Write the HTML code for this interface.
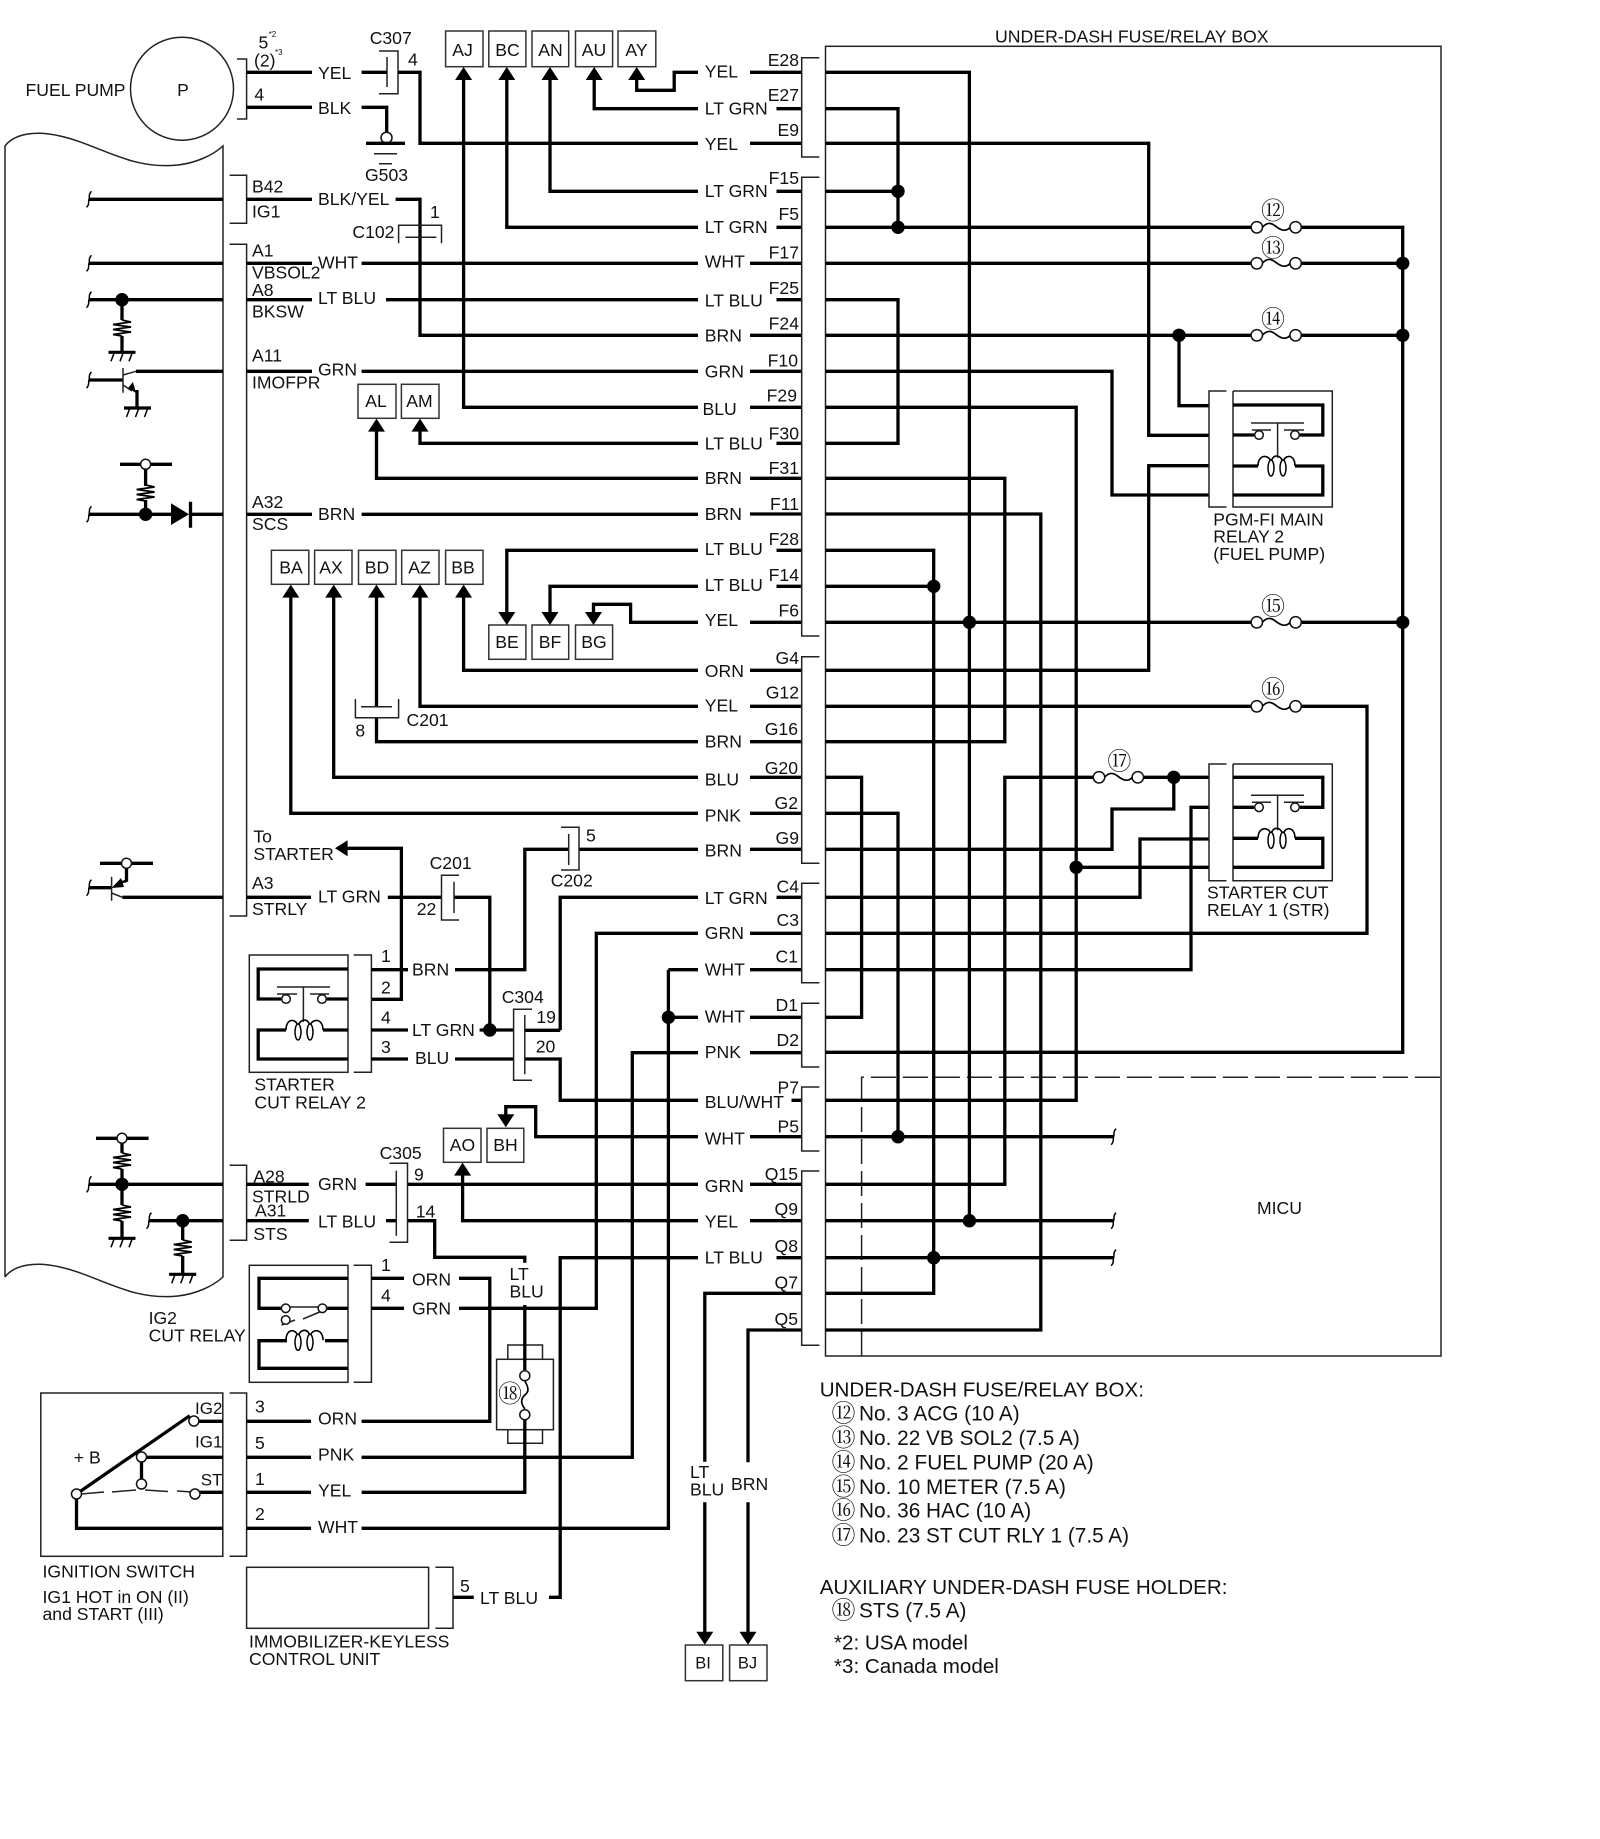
<!DOCTYPE html>
<html>
<head>
<meta charset="utf-8">
<title>Wiring diagram</title>
<style>
html,body{margin:0;padding:0;background:#fff;width:1600px;height:1839px;overflow:hidden}
svg{display:block}
text{font-family:"Liberation Sans","Noto Sans CJK JP",sans-serif;font-size:17.6px;fill:#111}
.w{fill:none;stroke:#000;stroke-width:3.3;stroke-linejoin:miter}
.t{fill:none;stroke:#222;stroke-width:1.5}
.b{fill:#fff;stroke:#333;stroke-width:1.5}
.s{font-size:8px}
.c{text-anchor:middle}
.e{text-anchor:end}
.l{font-size:20.8px}
.h{font-size:20.6px}
.n{font-family:"Noto Serif CJK SC","Noto Sans CJK JP",serif;font-size:24px;text-anchor:middle}
.n2{font-family:"Noto Serif CJK SC","Noto Sans CJK JP",serif;font-size:24px}
</style>
</head>
<body>
<svg width="1600" height="1839" viewBox="0 0 1600 1839" xmlns="http://www.w3.org/2000/svg">
<defs>
<polygon id="au" points="0,0 -8.5,13 8.5,13" fill="#000"/>
<polygon id="ad" points="0,0 -8.5,-13 8.5,-13" fill="#000"/>
<circle id="d" r="6.7" fill="#000"/>
<circle id="o" r="4.3" fill="#fff" stroke="#111" stroke-width="1.5"/>
<circle id="o2" r="5" fill="#fff" stroke="#111" stroke-width="1.5"/>
<path id="curl" d="M2.5,-8 C-1,-5 1,-2 0,0 C-1,2 1,5 -2.5,8" fill="none" stroke="#000" stroke-width="1.5"/>
<path id="res" d="M0,0 L9,2 L-9,4.5 L9,7 L-9,9.5 L9,12 L-9,14.5 L0,16" fill="none" stroke="#000" stroke-width="1.7"/>
<g id="gnd"><path d="M-13.5,0 H13.5" stroke="#000" stroke-width="3.2"/><path d="M-8,1 L-11,9 M1,1 L-2,9 M10,1 L7,9" stroke="#000" stroke-width="1.5" fill="none"/></g>
<g id="fuse"><circle cx="0" cy="0" r="5.7" fill="#fff" stroke="#111" stroke-width="1.5"/><circle cx="38.8" cy="0" r="5.7" fill="#fff" stroke="#111" stroke-width="1.5"/><path d="M5.5,0 C10,-5 14,-5 19,-1 S29,5 33.3,0" fill="none" stroke="#000" stroke-width="1.7"/></g>
<g id="coil"><path d="M25,75 C25,63 36,63 38,71 C40,63 47,63 50,71 C52,63 62,63 62,75" fill="none" stroke="#000" stroke-width="1.6"/><ellipse cx="38" cy="77" rx="3" ry="8" fill="#fff" stroke="#000" stroke-width="1.5"/><ellipse cx="50" cy="77" rx="3" ry="8" fill="#fff" stroke="#000" stroke-width="1.5"/></g>
<g id="relay">
<path class="w" d="M0,14 H89.8 V44 H67 M0,44 H21 M0,75 H25 M62,75 H89.8 V104 H0"/>
<path class="t" d="M18,32 H71 M19,39 H38 M51,39 H71 M44.6,32 V67"/>
<use href="#o" x="26" y="44"/><use href="#o" x="62" y="44"/>
<use href="#coil"/>
</g>
</defs>

<!-- ECM body -->
<path class="t" d="M5,1277 V146 C14,134 35,130 60,136 C100,145 130,170 178,165 C195,163 212,156 223,146 V1277 C212,1287 195,1294 178,1296 C130,1301 100,1276 60,1267 C35,1261 14,1265 5,1277"/>

<!-- Fuel pump -->
<circle class="t" cx="182" cy="88.7" r="51.5"/>
<text x="25.5" y="96">FUEL PUMP</text>
<text x="183" y="96" class="c">P</text>
<path class="t" d="M237,59 H246.6 V119 H237"/>
<text x="258.5" y="48.3">5</text><text x="268.7" y="37" class="s">*2</text>
<text x="254" y="66.7">(2)</text><text x="275" y="55" class="s">*3</text>
<text x="254.4" y="100.7">4</text>
<text x="318" y="79">YEL</text>
<text x="318" y="114">BLK</text>
<text x="369.7" y="44">C307</text>
<text x="408" y="65.7">4</text>
<path class="t" d="M379,51 H398 V93.7 H379 M387,57 V87"/>
<text x="365" y="181">G503</text>
<path class="w" d="M246.6,72.3 H312 M361.6,72.3 H387 M398,72.3 H420 V143.3 H698"/>
<path class="w" d="M246.6,107.3 H312 M361.6,107.3 H386.7 V133"/>
<circle cx="386.5" cy="137.7" r="5.5" fill="#fff" stroke="#111" stroke-width="1.5"/>
<path class="w" d="M366,143.3 H405"/>
<path class="t" d="M374,153.7 H397 M379,163.7 H392"/>

<!-- Connectors left of ECM labels -->
<path class="t" d="M229.6,175.3 H246.6 V223.3 H229.6"/>
<path class="t" d="M229.6,244.3 H246.6 V916 H229.6"/>
<path class="t" d="M229.6,1165.3 H246.6 V1240.3 H229.6"/>
<text x="252" y="192.7">B42</text><text x="252" y="217.7">IG1</text>
<text x="252" y="256.7">A1</text><text x="252" y="278.3">VBSOL2</text>
<text x="252" y="296">A8</text><text x="252" y="317.7">BKSW</text>
<text x="252" y="361.7">A11</text><text x="252" y="388.3">IMOFPR</text>
<text x="252" y="508">A32</text><text x="252" y="530">SCS</text>
<text x="253.4" y="842.7">To</text><text x="253.4" y="860">STARTER</text>
<text x="252" y="889">A3</text><text x="252" y="915">STRLY</text>
<text x="253.4" y="1182.3">A28</text><text x="252" y="1202.7">STRLD</text>
<text x="255" y="1216.7">A31</text><text x="253.4" y="1240">STS</text>

<text x="318" y="205">BLK/YEL</text>
<text x="318" y="268.3">WHT</text>
<text x="318" y="304">LT BLU</text>
<text x="318" y="375.7">GRN</text>
<text x="318" y="520">BRN</text>
<text x="318" y="902.3">LT GRN</text>
<text x="318" y="1190">GRN</text>
<text x="318" y="1227.7">LT BLU</text>

<!-- ECM-side wires -->
<path class="w" d="M89,199.3 H223 M246.6,199.3 H312 M395.6,199.3 H420 V335.3 H698"/>
<path class="w" d="M89,263.3 H223 M246.6,263.3 H312 M361.6,263.3 H698"/>
<path class="w" d="M89,299.7 H223 M246.6,299.7 H312 M386,299.7 H698"/>
<path class="w" d="M136,371.3 H223 M246.6,371.3 H312 M361.6,371.3 H698"/>
<path class="w" d="M89,514.3 H171 M190,514.3 H223 M246.6,514.3 H312 M361.6,514.3 H698"/>
<path class="w" d="M122.4,897.3 H223 M246.6,897.3 H311 M387.8,897.3 H441.5 M454,897.3 H489.8 V1030"/>
<use href="#curl" x="89" y="199.3"/><use href="#curl" x="89" y="263.3"/><use href="#curl" x="89" y="299.7"/><use href="#curl" x="89" y="380"/><use href="#curl" x="89" y="514.3"/><use href="#curl" x="89" y="887.7"/><use href="#curl" x="89" y="1184.3"/><use href="#curl" x="149" y="1220.7"/>

<!-- C102 -->
<path class="t" d="M398.6,243.3 V225.3 H441.5 V243.3 M405.4,237.3 H436.4"/>
<text x="352.4" y="238">C102</text><text x="430" y="218">1</text>

<!-- A8 pull-down -->
<use href="#d" x="122" y="299.7"/>
<path class="w" d="M122,300 V320 M122,336 V352"/>
<use href="#res" x="122" y="320"/>
<use href="#gnd" x="122" y="352.3"/>

<!-- A11 transistor -->
<path class="w" d="M89,380 H123"/>
<path class="t" d="M123,368 V392.7 M123,375 L136,371.3 M123,385 L132,391"/>
<polygon points="136,393 128,388 133,382" fill="#000"/>
<path class="w" d="M137,390 V407"/>
<use href="#gnd" x="137.5" y="408"/>

<!-- A32 -->
<use href="#d" x="145.6" y="514.3"/>
<polygon points="171,503.3 171,525 189,514.3" fill="#000"/>
<path class="w" d="M190.5,501.7 V527.7 M120,464.3 H172 M145.6,464.3 V486 M145.6,500 V514"/>
<use href="#o2" x="145.6" y="464.3"/>
<use href="#res" x="145.6" y="485"/>

<!-- A3 transistor -->
<path class="w" d="M89,887.7 H111.6 M126.5,881.7 V868 M100,863.3 H153"/>
<use href="#o2" x="126.5" y="863.3"/>
<path class="t" d="M111.6,876.7 V900.7 M111.6,893 L122.4,897.3"/>
<path class="w" d="M126.5,881 L118,883" style="stroke-width:2.5"/>
<polygon points="111.6,888 121,878 124,887" fill="#000"/>

<!-- C201 lower / To starter -->
<polygon points="335,848.3 347.6,840.3 347.6,856.3" fill="#000"/>
<path class="w" d="M347,848.3 H401.4 V999.3 H371.4"/>
<path class="t" d="M459,875.3 H441.5 V920 H459 M454,881.7 V913"/>
<text x="429.6" y="869">C201</text><text x="416.7" y="915">22</text>

<!-- Boxes top -->
<g class="b">
<rect x="445.6" y="31" width="37.4" height="35.7"/><rect x="488.8" y="31" width="37.1" height="35.7"/><rect x="532" y="31" width="36.7" height="35.7"/><rect x="575.5" y="31" width="37.1" height="35.7"/><rect x="618" y="31" width="37.8" height="35.7"/>
<rect x="358" y="384.3" width="38" height="34"/><rect x="401.4" y="384.3" width="37.6" height="34"/>
<rect x="271.4" y="550.3" width="37.4" height="34"/><rect x="314.6" y="550.3" width="37.4" height="34"/><rect x="358.5" y="550.3" width="37.5" height="34"/><rect x="401.7" y="550.3" width="37.3" height="34"/><rect x="445.6" y="550.3" width="37.4" height="34"/>
<rect x="488.8" y="625" width="37.1" height="34.3"/><rect x="532" y="625" width="36.7" height="34.3"/><rect x="575.5" y="625" width="37.1" height="34.3"/>
<rect x="443.5" y="1128.3" width="37.5" height="34"/><rect x="487" y="1128.3" width="36.8" height="34"/>
<rect x="685.4" y="1645" width="37.4" height="35.7"/><rect x="729.6" y="1645" width="37.4" height="35.7"/>
</g>
<text x="462.5" y="56" class="c">AJ</text><text x="507.5" y="56" class="c">BC</text><text x="550.5" y="56" class="c">AN</text><text x="594" y="56" class="c">AU</text><text x="636.5" y="56" class="c">AY</text>
<text x="376" y="407" class="c">AL</text><text x="419.5" y="407" class="c">AM</text>
<text x="291" y="573.5" class="c">BA</text><text x="331" y="573.5" class="c">AX</text><text x="377" y="573.5" class="c">BD</text><text x="419.5" y="573.5" class="c">AZ</text><text x="463" y="573.5" class="c">BB</text>
<text x="507" y="648" class="c">BE</text><text x="550" y="648" class="c">BF</text><text x="594" y="648" class="c">BG</text>
<text x="462.5" y="1151" class="c">AO</text><text x="505.5" y="1151" class="c">BH</text>
<text x="703" y="1668.5" class="c" style="font-size:16.5px">BI</text><text x="747.5" y="1668.5" class="c" style="font-size:16.5px">BJ</text>

<!-- Wires from top boxes -->
<path class="w" d="M463.6,75 V407.3 H698"/>
<path class="w" d="M506.8,75 V227.3 H698"/>
<path class="w" d="M550,75 V191.3 H698"/>
<path class="w" d="M594.2,75 V108.7 H698"/>
<path class="w" d="M636.7,75 V90.3 H674.2 V72.3 H698"/>
<use href="#au" x="463.6" y="67"/><use href="#au" x="506.8" y="67"/><use href="#au" x="550" y="67"/><use href="#au" x="594.2" y="67"/><use href="#au" x="636.7" y="67"/>
<path class="w" d="M376.5,428 V478.3 H698"/>
<path class="w" d="M420,428 V443.3 H698"/>
<use href="#au" x="376.5" y="418.6"/><use href="#au" x="420" y="418.6"/>
<path class="w" d="M290.8,595 V813.3 H698"/>
<path class="w" d="M333.7,595 V777.3 H698"/>
<path class="w" d="M376.5,595 V706.7 M376.5,717.7 V741.7 H698"/>
<path class="w" d="M420,595 V706.3 H698"/>
<path class="w" d="M463.6,595 V670.3 H698"/>
<use href="#au" x="290.8" y="584.6"/><use href="#au" x="333.7" y="584.6"/><use href="#au" x="376.5" y="584.6"/><use href="#au" x="420" y="584.6"/><use href="#au" x="463.6" y="584.6"/>
<path class="t" d="M355.4,699 V717.7 H398.6 V699 M361,706.7 H392"/>
<text x="355.4" y="736.7">8</text><text x="406.5" y="726">C201</text>
<path class="w" d="M506.8,614 V550.3 H698"/>
<path class="w" d="M550,614 V586.3 H698"/>
<path class="w" d="M593.5,614 V604.3 H630.6 V622.3 H698"/>
<use href="#ad" x="506.8" y="625"/><use href="#ad" x="550" y="625"/><use href="#ad" x="593.5" y="625"/>

<!-- Box wires mid -->
<path class="w" d="M524.8,1030.3 H560.2 M560.2,1030.3 V897.3 H698"/>
<path class="w" d="M524.8,1059 H560.2 V1100.3 H698"/>
<path class="w" d="M455,969.7 H524.8 V849.3 H568.7 M579,849.3 H698"/>
<path class="t" d="M561,827.3 H579 V870 H561 M568.7,834 V865"/>
<text x="586" y="841.7">5</text><text x="550.7" y="886.7">C202</text>

<!-- Starter cut relay 2 -->
<rect class="t" x="249.3" y="955" width="98.7" height="117.3"/>
<g transform="translate(348,955) scale(-1,1)"><use href="#relay"/></g>
<path class="t" d="M353.7,955 H371.4 V1072.3 H353.7"/>
<path class="w" d="M371.4,969.7 H408 M371.4,1030 H408 M479.6,1030 H513.6 M371.4,1059 H408 M455,1059 H513.6"/>
<use href="#d" x="489.8" y="1030"/>
<text x="381" y="962">1</text><text x="381" y="993.3">2</text><text x="381" y="1023.3">4</text><text x="381" y="1053">3</text>
<text x="412" y="975.7">BRN</text><text x="412" y="1036">LT GRN</text><text x="415" y="1064">BLU</text>
<text x="254.4" y="1090.7">STARTER</text><text x="254.4" y="1108.3">CUT RELAY 2</text>

<!-- C304 -->
<path class="t" d="M532,1009.3 H513.6 V1080.3 H532 M524.8,1015 V1074.3"/>
<text x="501.7" y="1003">C304</text><text x="536.4" y="1023">19</text><text x="535.7" y="1052.7">20</text>

<!-- A28 / A31 -->
<path class="w" d="M89,1184.3 H223 M246.6,1184.3 H308.8 M365.6,1184.3 H396.3 M407.5,1184.3 H698"/>
<path class="w" d="M149,1220.7 H223 M246.6,1220.7 H308.8 M386,1220.7 H396.3 M407.5,1220.7 H434.7 V1257.3 H524.8 V1262.7"/>
<path class="w" d="M462.6,1172 V1220.7 H698"/>
<use href="#au" x="462.6" y="1162.6"/>
<path class="w" d="M698,1136.7 H535.7 V1106.7 H505.8 V1116"/>
<use href="#ad" x="505.8" y="1127.3"/>
<path class="t" d="M389.5,1163.3 H407.5 V1242.3 H389.5 M396.3,1170.7 V1235.7"/>
<text x="379.6" y="1159">C305</text><text x="414" y="1180.7">9</text><text x="415.7" y="1217.7">14</text>
<use href="#d" x="122" y="1184.3"/><use href="#d" x="182.7" y="1220.7"/>
<path class="w" d="M96,1138.3 H148.6 M122,1138.3 V1153 M122,1169 V1205 M122,1221 V1238 M182.7,1221 V1240 M182.7,1256 V1274"/>
<use href="#o2" x="122" y="1138.3"/>
<use href="#res" x="122" y="1153"/><use href="#res" x="122" y="1205"/><use href="#gnd" x="122" y="1238.3"/>
<use href="#res" x="182.7" y="1240"/><use href="#gnd" x="182.7" y="1274.3"/>

<!-- IG2 cut relay -->
<text x="148.6" y="1324">IG2</text><text x="148.6" y="1341.7">CUT RELAY</text>
<rect class="t" x="249.3" y="1265.3" width="98.7" height="117"/>
<path class="t" d="M353.7,1265.3 H371.4 V1382.3 H353.7"/>
<path class="w" d="M348,1278.3 H259 V1308.3 H285 M327,1308.3 H348 M348,1340.7 H325 M287,1340.7 H259 V1368.3 H348"/>
<path class="t" d="M286,1307 L322,1307 M322,1311 L303,1319 M281.5,1325 L295,1320"/>
<use href="#o" x="285.7" y="1308.3"/><use href="#o" x="322.4" y="1308.3"/><use href="#o" x="285.7" y="1320"/>
<g transform="translate(348,1265.3) scale(-1,1)"><use href="#coil" y="0"/></g>
<path class="w" d="M371.4,1278.3 H404 M459,1278.3 H489.8 V1421.3 H361.6"/>
<path class="w" d="M371.4,1308.3 H404 M459,1308.3 H596.3 V933.3 H698"/>
<text x="381" y="1271">1</text><text x="381" y="1301.7">4</text>
<text x="412" y="1285.7">ORN</text><text x="412" y="1314.3">GRN</text>
<text x="509.5" y="1280">LT</text><text x="509.5" y="1297.3">BLU</text>

<!-- Fuse holder -->
<rect class="t" x="496.6" y="1359.3" width="56.8" height="70.4"/>
<path class="t" d="M507.8,1359.3 V1345 H542.5 V1359.3 M507.8,1429.7 V1443.3 H542.5 V1429.7"/>
<path class="w" d="M524.8,1305 V1370 M524.8,1420 V1492.3 H361.6"/>
<path d="M524.8,1381 C529,1388 529,1392 524.8,1395 C520.6,1399 520.6,1403 524.8,1409" fill="none" stroke="#000" stroke-width="1.7"/>
<use href="#o2" x="524.8" y="1375.7"/><use href="#o2" x="524.8" y="1414.7"/>
<text x="510" y="1402" class="n">⑱</text>

<!-- Connectors to box left -->
<path class="w" d="M668.4,969.7 H698 M668.4,969.7 V1528.3 H361.6 M668.4,1017.3 H698"/>
<use href="#d" x="668.4" y="1017.3"/>
<path class="w" d="M698,1052.7 H632.3 V1457.3 H361.6"/>
<path class="w" d="M698,1257.7 H560.2 V1597.3 H549"/>

<!-- Ignition switch -->
<rect class="t" x="40.8" y="1393" width="182" height="163.3"/>
<path class="t" d="M229.6,1393 H246.6 V1556.3 H229.6"/>
<path class="w" d="M76.5,1494 L189.8,1415.7 M198,1421.3 H223 M141.5,1457.3 H223 M141.5,1457 V1484 M198,1492.3 H223 M76.5,1494 V1528.3 H223"/>
<path class="t" d="M81,1494 L104,1492 M112,1492 L136,1490 M145,1490 L168,1491.5 M177,1491 L192,1492"/>
<use href="#o2" x="193.9" y="1421"/><use href="#o2" x="141.5" y="1457"/><use href="#o2" x="141.5" y="1484"/><use href="#o2" x="195" y="1494"/><use href="#o2" x="76.5" y="1494"/>
<text x="195" y="1414" style="font-size:17px">IG2</text><text x="195" y="1447.3" style="font-size:17px">IG1</text><text x="200.7" y="1485.7" style="font-size:17px">ST</text><text x="73.8" y="1463.3">+ B</text>
<path class="w" d="M246.6,1421.3 H311 M246.6,1457.3 H311 M246.6,1492.3 H311 M246.6,1528.3 H311"/>
<text x="255" y="1412.3">3</text><text x="255" y="1449">5</text><text x="255" y="1485">1</text><text x="255" y="1520">2</text>
<text x="318" y="1424.7">ORN</text><text x="318" y="1460.7">PNK</text><text x="318" y="1496.7">YEL</text><text x="318" y="1533">WHT</text>
<text x="42.5" y="1577.3">IGNITION SWITCH</text>
<text x="42.5" y="1603">IG1 HOT in ON (II)</text>
<text x="42.5" y="1620">and START (III)</text>

<!-- Immobilizer -->
<rect class="t" x="246.6" y="1567.3" width="182" height="61"/>
<path class="t" d="M435.4,1567.3 H453 V1628.3 H435.4"/>
<path class="w" d="M453,1597.3 H473.8"/>
<text x="460" y="1592">5</text><text x="480" y="1604">LT BLU</text>
<text x="249" y="1647.3">IMMOBILIZER-KEYLESS</text><text x="249" y="1665">CONTROL UNIT</text>

<!-- Q7/Q5 down -->
<path class="w" d="M801.7,1293.3 H704.8 V1461.7 M704.8,1502.3 V1634"/>
<path class="w" d="M801.7,1330 H748 V1462.3 M748,1502.3 V1634"/>
<use href="#ad" x="704.8" y="1644.7"/><use href="#ad" x="748" y="1644.7"/>
<text x="690" y="1478">LT</text><text x="690" y="1495.7">BLU</text><text x="731" y="1490">BRN</text>

<!-- Center labels -->
<text x="704.8" y="77.3">YEL</text><text x="704.8" y="114.3">LT GRN</text><text x="704.8" y="150">YEL</text><text x="704.8" y="197">LT GRN</text><text x="704.8" y="233">LT GRN</text><text x="704.8" y="267.7">WHT</text><text x="704.8" y="306.7">LT BLU</text><text x="704.8" y="341.7">BRN</text><text x="704.8" y="377.7">GRN</text><text x="702.5" y="415">BLU</text><text x="704.8" y="449.3">LT BLU</text><text x="704.8" y="484">BRN</text><text x="704.8" y="520">BRN</text><text x="704.8" y="555">LT BLU</text><text x="704.8" y="591">LT BLU</text><text x="704.8" y="626">YEL</text><text x="704.8" y="677">ORN</text><text x="704.8" y="711.3">YEL</text><text x="704.8" y="747.3">BRN</text><text x="704.8" y="785.7">BLU</text><text x="704.8" y="821.7">PNK</text><text x="704.8" y="856.7">BRN</text><text x="704.8" y="904">LT GRN</text><text x="704.8" y="939">GRN</text><text x="704.8" y="975.7">WHT</text><text x="704.8" y="1022.7">WHT</text><text x="704.8" y="1058">PNK</text><text x="704.8" y="1108">BLU/WHT</text><text x="704.8" y="1144.5">WHT</text><text x="704.8" y="1192">GRN</text><text x="704.8" y="1227.7">YEL</text><text x="704.8" y="1263.5">LT BLU</text>

<!-- Pin labels -->
<g class="e">
<text x="799" y="66" class="e">E28</text><text x="799" y="101" class="e">E27</text><text x="799" y="136" class="e">E9</text><text x="799" y="184" class="e">F15</text><text x="799" y="220" class="e">F5</text><text x="799" y="258.3" class="e">F17</text><text x="799" y="294" class="e">F25</text><text x="799" y="329.3" class="e">F24</text><text x="798" y="366.7" class="e">F10</text><text x="797" y="401.7" class="e">F29</text><text x="799" y="439.3" class="e">F30</text><text x="799" y="474" class="e">F31</text><text x="799" y="510" class="e">F11</text><text x="799" y="545" class="e">F28</text><text x="799" y="581" class="e">F14</text><text x="799" y="616.7" class="e">F6</text><text x="799" y="664" class="e">G4</text><text x="799" y="698.7" class="e">G12</text><text x="798" y="735" class="e">G16</text><text x="798" y="774" class="e">G20</text><text x="798" y="809" class="e">G2</text><text x="799" y="844" class="e">G9</text><text x="799" y="892.3" class="e">C4</text><text x="799" y="926" class="e">C3</text><text x="798" y="962.7" class="e">C1</text><text x="798" y="1011" class="e">D1</text><text x="799" y="1046" class="e">D2</text><text x="799" y="1093.3" class="e">P7</text><text x="799" y="1132.3" class="e">P5</text><text x="798" y="1180" class="e">Q15</text><text x="798" y="1215" class="e">Q9</text><text x="798" y="1252" class="e">Q8</text><text x="798" y="1288.3" class="e">Q7</text><text x="798" y="1325" class="e">Q5</text>
</g>

<!-- Wires from label to bracket -->
<path class="w" d="M750,72.3 H801.7 M776.5,108.7 H801.7 M750,143.3 H801.7 M776.5,191.3 H801.7 M776.5,227.3 H801.7 M750,263.3 H801.7 M776.5,299.7 H801.7 M750,335.3 H801.7 M750,371.3 H801.7 M750,407.3 H801.7 M776.5,443.3 H801.7 M750,478.3 H801.7 M750,514 H801.7 M776.5,550.3 H801.7 M776.5,586.3 H801.7 M750,622.3 H801.7 M750,670.3 H801.7 M750,706.3 H801.7 M750,741.7 H801.7 M750,777.3 H801.7 M750,813.3 H801.7 M750,849.3 H801.7 M776.5,897.3 H801.7 M750,933.3 H801.7 M750,969.7 H801.7 M750,1017.3 H801.7 M750,1052.7 H801.7 M791.5,1100.3 H801.7 M750,1136.7 H801.7 M750,1184.3 H801.7 M750,1220.7 H801.7 M776.5,1257.7 H801.7"/>

<!-- Brackets -->
<path class="t" d="M819.4,57.7 H801.7 V157 H819.4 M819.4,177.3 H801.7 V636 H819.4 M819.4,656.7 H801.7 V863.3 H819.4 M819.4,883.3 H801.7 V982.7 H819.4 M819.4,1003.3 H801.7 V1067 H819.4 M819.4,1087 H801.7 V1151 H819.4 M819.4,1171 H801.7 V1345.3 H819.4"/>

<!-- Fuse box -->
<rect class="t" x="825.5" y="46.3" width="615.5" height="1309.7"/>
<text x="995" y="42.3" style="font-size:17.7px">UNDER-DASH FUSE/RELAY BOX</text>
<path d="M861.6,1356 V1077.3 H1441" fill="none" stroke="#222" stroke-width="1.5" stroke-dasharray="25 7"/>
<text x="1257" y="1214">MICU</text>

<!-- Wires in fuse box -->
<path class="w" d="M825.5,72.3 H969.4 V1220.7"/>
<path class="w" d="M825.5,108.7 H898 V227.3"/>
<path class="w" d="M825.5,143.3 H1148.7 V435.3 H1209"/>
<path class="w" d="M825.5,191.3 H898"/>
<path class="w" d="M825.5,227.3 H1251.3 M1301.1,227.3 H1402.7 V1052.3 H825.5"/>
<path class="w" d="M825.5,263.3 H1251.3 M1301.1,263.3 H1402.7"/>
<path class="w" d="M825.5,299.7 H898 V443.3 H825.5"/>
<path class="w" d="M825.5,335.3 H1251.3 M1301.1,335.3 H1402.7"/>
<path class="w" d="M1179,335.3 V405.7 H1209"/>
<path class="w" d="M825.5,371.3 H1112 V495 H1209"/>
<path class="w" d="M825.5,407.3 H1076.2 V1100.3 H825.5"/>
<path class="w" d="M825.5,478.3 H1004.8 V741.7 H825.5"/>
<path class="w" d="M825.5,514 H1040.8 V1330 H825.5"/>
<path class="w" d="M825.5,550.3 H933.7 V1293.3 H825.5"/>
<path class="w" d="M825.5,586.3 H933.7"/>
<path class="w" d="M825.5,622.3 H1251.3 M1301.1,622.3 H1402.7"/>
<path class="w" d="M825.5,670.3 H1148.7 V465.7 H1209"/>
<path class="w" d="M825.5,706.3 H1251.3 M1301.1,706.3 H1367 V933.3 H825.5"/>
<path class="w" d="M825.5,777.3 H861.6 V1017.3 H825.5"/>
<path class="w" d="M825.5,813.3 H898 V1136.7"/>
<path class="w" d="M825.5,849.3 H1112 V809 H1173.8 V777.3"/>
<path class="w" d="M825.5,1184.3 H1004.8 V777.3 H1093.5 M1143.6,777.3 H1209"/>
<path class="w" d="M1076.2,867.3 H1209"/>
<path class="w" d="M825.5,897.3 H1140 V839 H1209"/>
<path class="w" d="M825.5,969.7 H1191 V807.3 H1209"/>
<path class="w" d="M825.5,1136.7 H1113.6"/>
<path class="w" d="M825.5,1220.7 H1113.6"/>
<path class="w" d="M825.5,1257.7 H1113.6"/>
<use href="#curl" x="1113.6" y="1136.7"/><use href="#curl" x="1113.6" y="1220.7"/><use href="#curl" x="1113.6" y="1257.7"/>

<!-- Dots -->
<use href="#d" x="898" y="191.3"/><use href="#d" x="898" y="227.3"/><use href="#d" x="1179" y="335.3"/><use href="#d" x="1402.7" y="263.3"/><use href="#d" x="1402.7" y="335.3"/><use href="#d" x="1402.7" y="622.3"/><use href="#d" x="933.7" y="586.3"/><use href="#d" x="969.4" y="622.3"/><use href="#d" x="1173.8" y="777.3"/><use href="#d" x="1076.2" y="867.3"/><use href="#d" x="898" y="1136.7"/><use href="#d" x="969.4" y="1220.7"/><use href="#d" x="933.7" y="1257.7"/>

<!-- Fuses -->
<use href="#fuse" x="1256.8" y="227.3"/><use href="#fuse" x="1256.8" y="263.3"/><use href="#fuse" x="1256.8" y="335.3"/><use href="#fuse" x="1256.8" y="622.3"/><use href="#fuse" x="1256.8" y="706.3"/><use href="#fuse" x="1099" y="777.3"/>
<text x="1273" y="219" class="n">⑫</text><text x="1273" y="256.3" class="n">⑬</text><text x="1273" y="327.3" class="n">⑭</text><text x="1273" y="614.7" class="n">⑮</text><text x="1273" y="697.3" class="n">⑯</text><text x="1119.4" y="769.7" class="n">⑰</text>

<!-- Relays -->
<path class="t" d="M1226.5,391 H1209 V507 H1226.5 M1233,391 H1332.3 V507 H1233 V391"/>
<g transform="translate(1233,391)"><use href="#relay"/></g>
<text x="1213.3" y="525.7">PGM-FI MAIN</text><text x="1213.3" y="542.7">RELAY 2</text><text x="1213.3" y="560">(FUEL PUMP)</text>
<path class="t" d="M1226.5,764 H1209 V880.7 H1226.5 M1233,764 H1332.3 V880.7 H1233 V764"/>
<g transform="translate(1233,763.3)"><use href="#relay"/></g>
<text x="1207" y="898.7">STARTER CUT</text><text x="1207" y="916">RELAY 1 (STR)</text>

<!-- Legend -->
<text x="819.7" y="1396.3" class="h">UNDER-DASH FUSE/RELAY BOX:</text>
<text x="831.5" y="1421.7" class="n2">⑫</text><text x="859" y="1420.7" class="l">No. 3 ACG (10 A)</text>
<text x="831.5" y="1446" class="n2">⑬</text><text x="859" y="1445" class="l">No. 22 VB SOL2 (7.5 A)</text>
<text x="831.5" y="1470.7" class="n2">⑭</text><text x="859" y="1469.7" class="l">No. 2 FUEL PUMP (20 A)</text>
<text x="831.5" y="1495" class="n2">⑮</text><text x="859" y="1494" class="l">No. 10 METER (7.5 A)</text>
<text x="831.5" y="1518.3" class="n2">⑯</text><text x="859" y="1517.3" class="l">No. 36 HAC (10 A)</text>
<text x="831.5" y="1543.3" class="n2">⑰</text><text x="859" y="1542.3" class="l">No. 23 ST CUT RLY 1 (7.5 A)</text>
<text x="819.7" y="1594" class="h">AUXILIARY UNDER-DASH FUSE HOLDER:</text>
<text x="831.5" y="1618.3" class="n2">⑱</text><text x="859" y="1617.3" class="l">STS (7.5 A)</text>
<text x="834" y="1649.7" class="h">*2: USA model</text>
<text x="834" y="1673" class="h">*3: Canada model</text>
</svg>
</body>
</html>
